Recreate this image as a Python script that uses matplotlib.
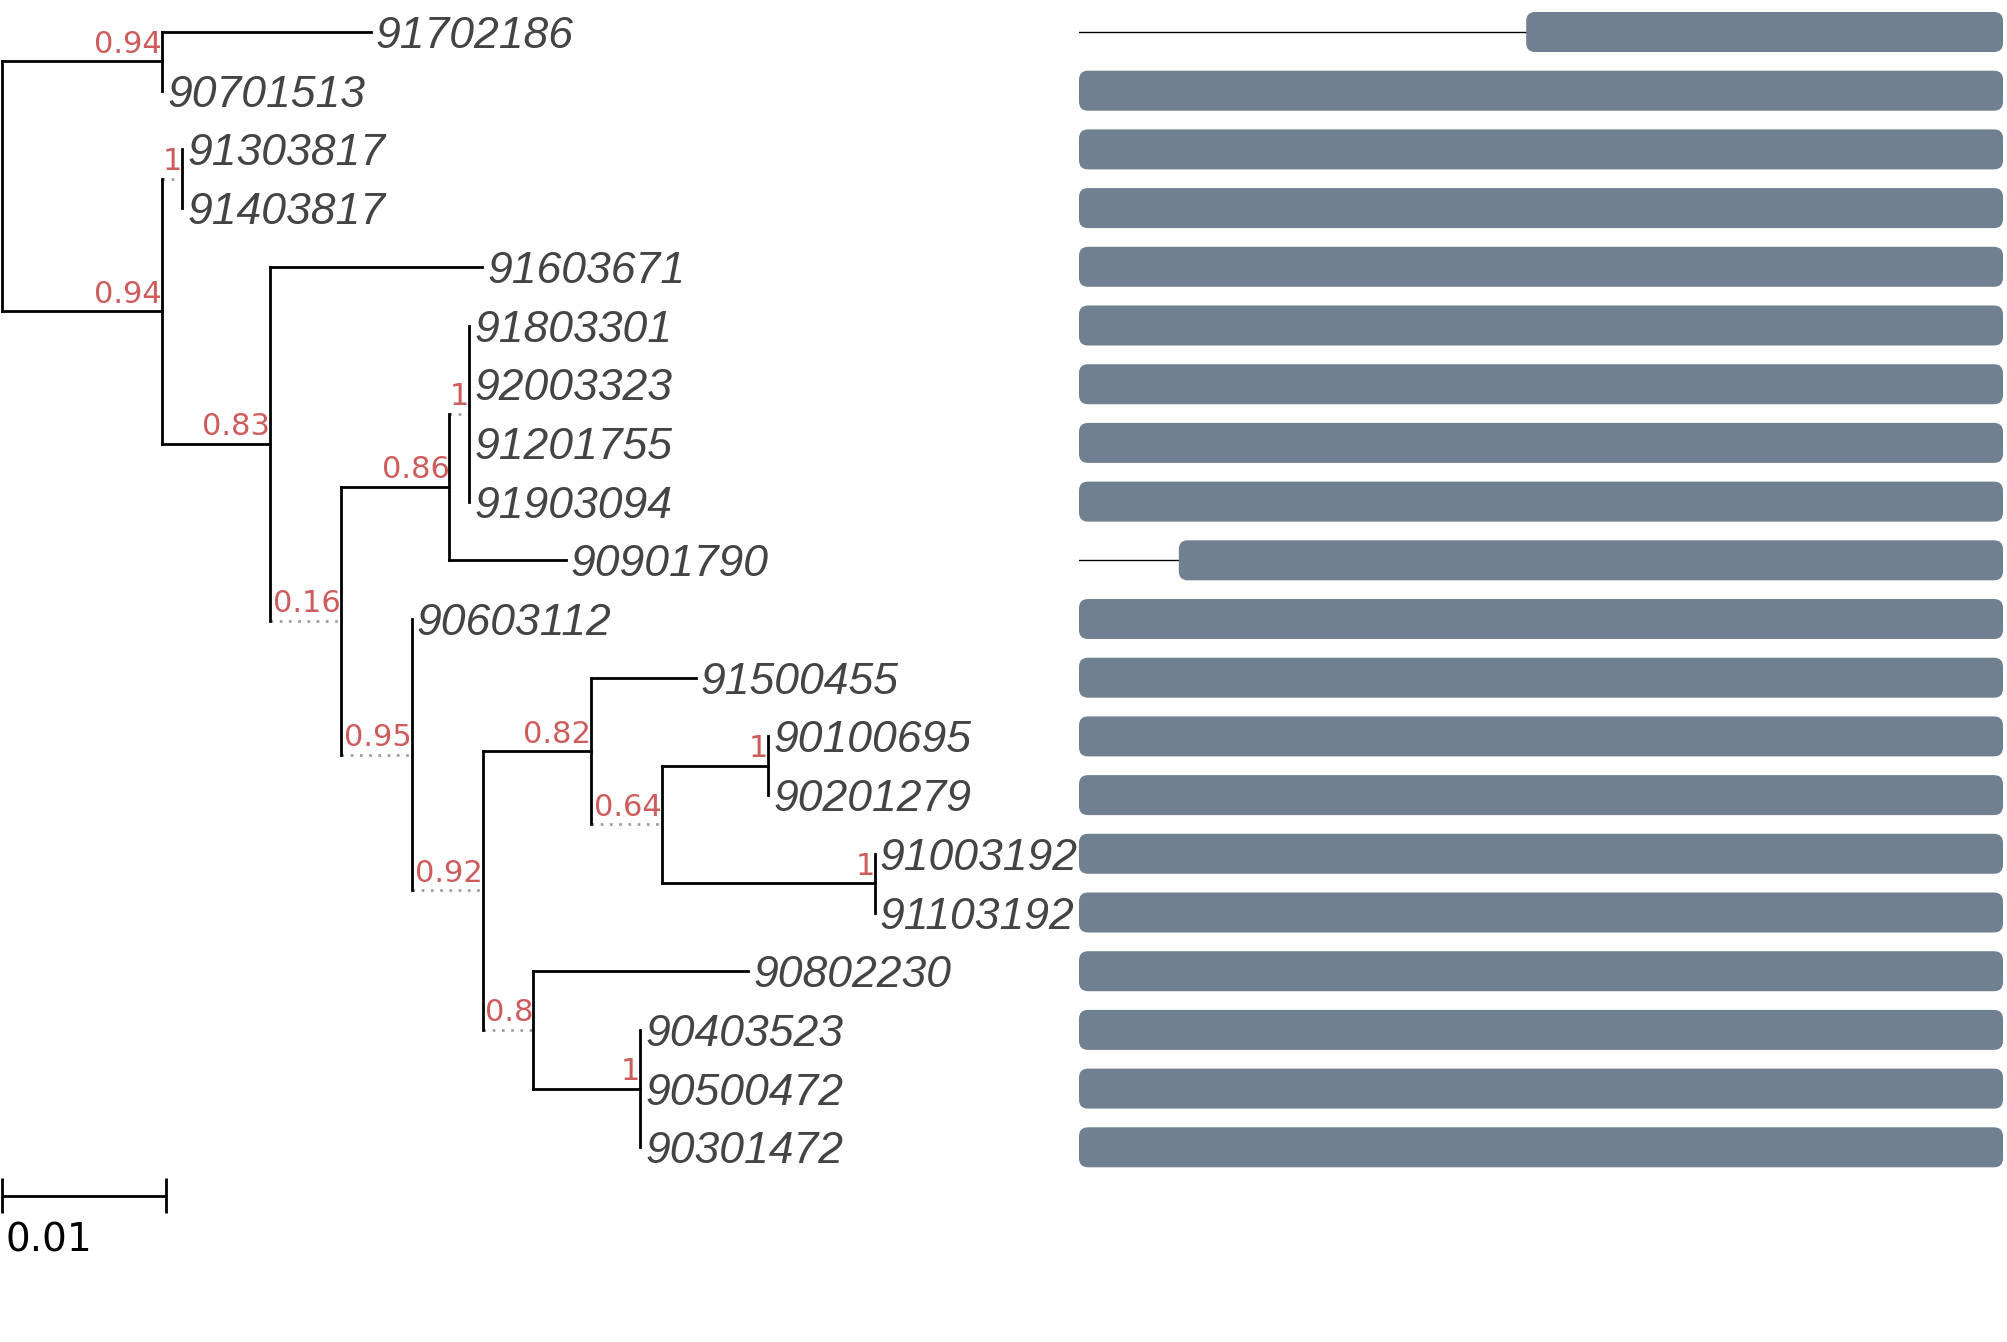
import matplotlib
matplotlib.use('Agg')
import matplotlib.pyplot as plt
from matplotlib.patches import FancyBboxPatch

# ---------------- data ----------------
tip_names = ['91702186', '90701513', '91303817', '91403817', '91603671',
             '91803301', '92003323', '91201755', '91903094', '90901790',
             '90603112', '91500455', '90100695', '90201279', '91003192',
             '91103192', '90802230', '90403523', '90500472', '90301472']
tip_parent = ['n1', 'n1', 'n3', 'n3', 'n4',
              'n7', 'n7', 'n7', 'n7', 'n6',
              'n8', 'n10', 'n12', 'n12', 'n13',
              'n13', 'n14', 'n15', 'n15', 'n15']
tip_length = [0.0127, 0.0, 0.0, 0.0, 0.0129,
              0.0, 0.0, 0.0, 0.0, 0.0071,
              0.0, 0.0064, 0.0, 0.0, 0.0,
              0.0, 0.0131, 0.0, 0.0, 0.0]

node_names = ['root', 'n1', 'n2', 'n3', 'n4', 'n5', 'n6', 'n7',
              'n8', 'n9', 'n10', 'n11', 'n12', 'n13', 'n14', 'n15']
node_parent = [None, 'root', 'root', 'n2', 'n2', 'n4', 'n5', 'n6',
               'n5', 'n8', 'n9', 'n10', 'n11', 'n11', 'n9', 'n14']
node_length = [0.0, 0.0098, 0.0098, 0.0, 0.0066, 0.0, 0.0066, 0.0,
               0.0, 0.0, 0.0066, 0.0, 0.0065, 0.0130, 0.0, 0.0065]
node_support = [None, 0.94, 0.94, 1, 0.83, 0.16, 0.86, 1,
                0.95, 0.92, 0.82, 0.64, 1, 1, 0.8, 1]

seq_length = 1000
domain_start = [484, 0, 0, 0, 0, 0, 0, 0, 0, 108,
                0, 0, 0, 0, 0, 0, 0, 0, 0, 0]
domain_end = [1000, 1000, 1000, 1000, 1000, 1000, 1000, 1000, 1000, 1000,
              1000, 1000, 1000, 1000, 1000, 1000, 1000, 1000, 1000, 1000]

scale_bar = 0.01
scale_label = '0.01'

# ---------------- layout constants ----------------
W, H, DPI = 2007, 1342, 100
PX_PER_UNIT = 16400.0      # 164 px for 0.01
ROW_PX = 58.7
ROW0_PX = 32.0
ROOT_PX = 1.5
SUP_SIZE = 22
TIP_SIZE = 32
SUP_COLOR = '#cd5c5c'
TIP_COLOR = '#444444'
LW = 2.0

fig = plt.figure(figsize=(W / DPI, H / DPI), dpi=DPI)
ax = fig.add_axes([0, 0, 1, 1])
ax.set_xlim(-ROOT_PX / PX_PER_UNIT, (W - ROOT_PX) / PX_PER_UNIT)
ax.set_ylim((H - ROW0_PX) / ROW_PX, -ROW0_PX / ROW_PX)
ax.axis('off')

renderer = fig.canvas.get_renderer()

# ---------------- tree structure ----------------
children = {n: [] for n in node_names}
length = {}
support = {}
for n, p, l, s in zip(node_names, node_parent, node_length, node_support):
    length[n] = l
    support[n] = s
    if p is not None:
        children[p].append(n)
tip_index = {}
for i, (t, p, l) in enumerate(zip(tip_names, tip_parent, tip_length)):
    children[p].append(t)
    length[t] = l
    tip_index[t] = i


def min_tip(n):
    if n in tip_index:
        return tip_index[n]
    return min(min_tip(c) for c in children[n])


for n in node_names:
    children[n].sort(key=min_tip)

ypos = {}


def set_y(n):
    if n in tip_index:
        ypos[n] = tip_index[n]
        return ypos[n]
    ys = [set_y(c) for c in children[n]]
    ypos[n] = (ys[0] + ys[-1]) / 2.0
    return ypos[n]


set_y('root')


def fmt(s):
    return '1' if s == 1 else ('%g' % s)


def label_width_units(s):
    txt = fmt(s)
    t = ax.text(0, 0, txt, fontsize=SUP_SIZE, family='DejaVu Sans')
    w = t.get_window_extent(renderer=renderer).width
    t.remove()
    # face width incl. the slightly wider character spacing of the original renderer
    return (w + 0.8 * (len(txt) - 1) + 0.6) / PX_PER_UNIT


xpos = {'root': 0.0}
solid_end = {'root': 0.0}


def set_x(n):
    for c in children[n]:
        start = xpos[n]
        if c in tip_index:
            xpos[c] = start + length[c]
            solid_end[c] = xpos[c]
        else:
            ext = label_width_units(support[c]) if support[c] is not None else 0
            xpos[c] = start + max(length[c], ext)
            solid_end[c] = start + length[c]
            set_x(c)


set_x('root')

# ---------------- draw tree ----------------
for n in node_names + tip_names:
    if n != 'root':
        p = node_parent[node_names.index(n)] if n in node_names else tip_parent[tip_index[n]]
        x0 = xpos[p]
        if solid_end[n] > x0:
            ax.plot([x0, solid_end[n]], [ypos[n], ypos[n]], color='black',
                    lw=LW, solid_capstyle='projecting', zorder=3)
        if xpos[n] > solid_end[n] + 1e-12:
            ax.plot([solid_end[n], xpos[n]], [ypos[n], ypos[n]], color='#999999',
                    lw=1.9, linestyle=(0, (1, 2.5)), dash_capstyle='butt', zorder=2)
    if n in node_names:
        ys = [ypos[c] for c in children[n]]
        ax.plot([xpos[n], xpos[n]], [ys[0], ys[-1]], color='black',
                lw=LW, solid_capstyle='projecting', zorder=3)
        if support[n] is not None:
            ax.annotate(fmt(support[n]), xy=(xpos[n], ypos[n]), xytext=(0, 8.5),
                        textcoords='offset pixels', ha='right', va='baseline',
                        fontsize=SUP_SIZE, color=SUP_COLOR, family='DejaVu Sans',
                        zorder=4)

for t in tip_names:
    ax.annotate(t, xy=(xpos[t], ypos[t]), xytext=(5, -16),
                textcoords='offset pixels', ha='left', va='baseline',
                fontsize=TIP_SIZE, style='italic', family='Liberation Sans',
                color=TIP_COLOR, zorder=4)

# ---------------- scale bar ----------------
yb = (1195.7 - ROW0_PX) / ROW_PX
tick = 17.5 / ROW_PX
ax.plot([0, scale_bar], [yb, yb], color='black', lw=LW, solid_capstyle='butt')
for xx in (0, scale_bar):
    ax.plot([xx, xx], [yb - tick, yb + tick], color='black', lw=LW,
            solid_capstyle='butt')
ax.annotate(scale_label, xy=(0, yb), xytext=(3.5, -56), textcoords='offset pixels',
            ha='left', va='baseline', fontsize=28, color='black',
            family='DejaVu Sans')

# ---------------- sequence / domain panel ----------------
left_px, right_px = 1079, 2003
ax2 = fig.add_axes([left_px / W, 0, (right_px - left_px) / W, 1])
ax2.set_xlim(0, seq_length)
ax2.set_ylim((H - ROW0_PX) / ROW_PX, -ROW0_PX / ROW_PX)
ax2.axis('off')

x_per_px = seq_length / float(right_px - left_px)
y_per_px = 1.0 / ROW_PX
bar_h = 40.0 / ROW_PX
radius = 9 * x_per_px
asp = y_per_px / x_per_px

for i, (s, e) in enumerate(zip(domain_start, domain_end)):
    ax2.plot([0, seq_length], [i, i], color='black', lw=1.0, zorder=1)
    box = FancyBboxPatch((s, i - bar_h / 2), e - s, bar_h,
                         boxstyle='round,pad=0,rounding_size=%f' % radius,
                         mutation_aspect=asp, facecolor='#708090',
                         edgecolor='none', zorder=2)
    ax2.add_patch(box)

fig.savefig('out.png', dpi=DPI, facecolor='white')
